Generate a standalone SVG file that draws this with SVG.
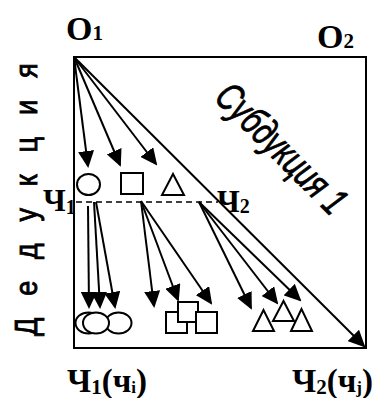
<svg xmlns="http://www.w3.org/2000/svg" width="379" height="398" viewBox="0 0 379 398">
<style>
.ln{stroke:#000;stroke-width:2;fill:none}
.ar{stroke:#000;stroke-width:2;fill:none;marker-end:url(#ah)}
.sh{stroke:#000;stroke-width:2;fill:#fff}
.lb{font-family:"Liberation Serif","Times New Roman",serif;font-weight:bold;fill:#000}
.sn{font-family:"Liberation Sans",Arial,sans-serif;fill:#000;stroke:#000;stroke-width:0.9}
</style>
<defs>
<marker id="ah" markerUnits="userSpaceOnUse" markerWidth="17" markerHeight="16" viewBox="0 0 17 16" refX="15" refY="8" orient="auto">
<path d="M0,0 L17,8 L0,16 Z" fill="#000"/>
</marker>
</defs>
<rect id="white-bg" x="0" y="0" width="379" height="398" fill="#fff"/>
<g id="frame">
<rect class="ln" x="74" y="57" width="292" height="291"/>
</g>
<g id="connectors">
<line class="ar" x1="74" y1="57" x2="364" y2="346"/>
<line class="ar" x1="74" y1="57" x2="88" y2="166"/>
<line class="ar" x1="74" y1="57" x2="120" y2="165"/>
<line class="ar" x1="74" y1="57" x2="156" y2="164"/>
<line x1="76" y1="202" x2="218" y2="202" stroke="#000" stroke-width="1.6" stroke-dasharray="6 4"/>
<line class="ar" x1="88" y1="206" x2="89" y2="307"/>
<line class="ar" x1="94" y1="202" x2="100" y2="307"/>
<line class="ar" x1="96" y1="202" x2="115" y2="307"/>
<line class="ar" x1="141" y1="201" x2="154" y2="306"/>
<line class="ar" x1="141" y1="201" x2="178" y2="300"/>
<line class="ar" x1="141" y1="201" x2="211" y2="303"/>
<line class="ar" x1="199" y1="202" x2="251" y2="308"/>
<line class="ar" x1="199" y1="202" x2="277" y2="303"/>
<line class="ar" x1="199" y1="202" x2="300" y2="300"/>
</g>
<g id="top-circle"><ellipse class="sh" cx="88.5" cy="184.5" rx="11.5" ry="10.5"/></g>
<g id="top-square"><rect class="sh" x="121" y="173" width="22" height="21"/></g>
<g id="top-triangle"><polygon class="sh" points="173,174 162,195 184,195"/></g>
<g id="bottom-circles">
<ellipse class="sh" cx="88.5" cy="323" rx="13" ry="10.5"/>
<ellipse class="sh" cx="118.5" cy="323" rx="13" ry="10.5"/>
<ellipse class="sh" cx="96" cy="323" rx="13" ry="10.5"/>
</g>
<g id="bottom-squares">
<rect class="sh" x="166" y="312" width="21" height="21"/>
<rect class="sh" x="178" y="302" width="20" height="20"/>
<rect class="sh" x="196" y="312" width="21" height="21"/>
</g>
<g id="bottom-triangles">
<polygon class="sh" points="263.5,310 253,331 274,331"/>
<polygon class="sh" points="301.5,309 291,331 312,331"/>
<polygon class="sh" points="283.5,301 273,321 294,321"/>
</g>
<g id="label-O1"><text class="lb" x="66" y="40" font-size="34">O<tspan font-size="21">1</tspan></text></g>
<g id="label-O2"><text class="lb" x="317" y="48" font-size="34">O<tspan font-size="21">2</tspan></text></g>
<g id="label-Ch1"><text class="lb" x="43" y="211" font-size="31">Ч<tspan font-size="20" dy="3">1</tspan></text></g>
<g id="label-Ch2"><text class="lb" x="217" y="212" font-size="31">Ч<tspan font-size="20" dy="1">2</tspan></text></g>
<g id="label-Ch1-bottom"><text class="lb" x="67" y="392" font-size="33">Ч<tspan font-size="21" dy="2">1</tspan><tspan dy="-2">(ч</tspan><tspan font-size="17" dy="1">i</tspan><tspan dy="-1">)</tspan></text></g>
<g id="label-Ch2-bottom"><text class="lb" x="292" y="392" font-size="33">Ч<tspan font-size="21" dy="2">2</tspan><tspan dy="-2">(ч</tspan><tspan font-size="17" dy="1">j</tspan><tspan dy="-1">)</tspan></text></g>
<g id="label-deduction"><text class="sn" font-size="32" transform="translate(37,336) rotate(-90) scale(0.85,1)" textLength="321" lengthAdjust="spacing">Дедукция</text></g>
<g id="label-subduction"><text class="sn" font-size="40" font-style="italic" stroke-width="0.6" transform="translate(213,99) rotate(45) scale(0.66,1)" textLength="253" lengthAdjust="spacingAndGlyphs">Субдукция 1</text></g>
</svg>
